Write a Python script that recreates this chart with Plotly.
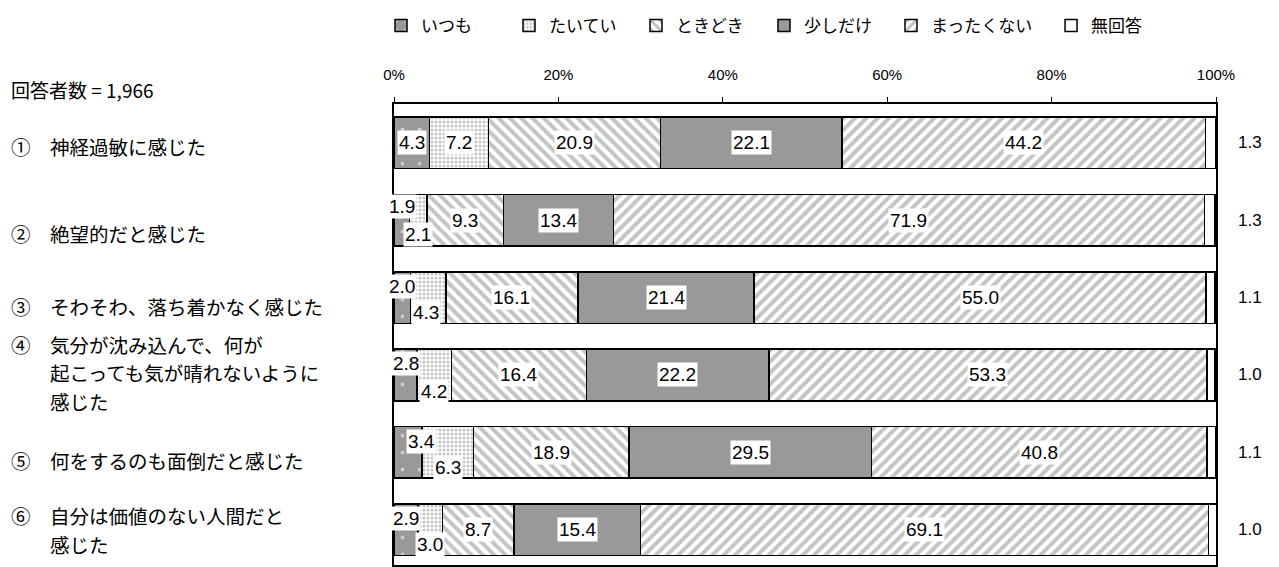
import plotly.graph_objects as go

# 設問（左側のラベル）
categories = [
    "①　神経過敏に感じた",
    "②　絶望的だと感じた",
    "③　そわそわ、落ち着かなく感じた",
    "④　気分が沈み込んで、何が<br>　　起こっても気が晴れないように<br>　　感じた",
    "⑤　何をするのも面倒だと感じた",
    "⑥　自分は価値のない人間だと<br>　　感じた",
]
series_names = ["いつも", "たいてい", "ときどき", "少しだけ", "まったくない", "無回答"]

itsumo = [4.3, 1.9, 2.0, 2.8, 3.4, 2.9]
taitei = [7.2, 2.1, 4.3, 4.2, 6.3, 3.0]
tokidoki = [20.9, 9.3, 16.1, 16.4, 18.9, 8.7]
sukoshi = [22.1, 13.4, 21.4, 22.2, 29.5, 15.4]
mattaku = [44.2, 71.9, 55.0, 53.3, 40.8, 69.1]
mukaitou = [1.3, 1.3, 1.1, 1.0, 1.1, 1.0]

n_label = "回答者数 = 1,966"
tick_vals = [0, 20, 40, 60, 80, 100]
tick_text = ["0%", "20%", "40%", "60%", "80%", "100%"]

values = [itsumo, taitei, tokidoki, sukoshi, mattaku, mukaitou]

JP = "Noto Sans CJK JP"
NUM = "Liberation Sans"
GRAY = "#999999"
STRIPE = "#8a8a8a"

patterns = [
    dict(shape=".", bgcolor=GRAY, fgcolor="white", size=17, solidity=0.04),
    dict(shape=".", bgcolor="white", fgcolor=STRIPE, size=4, solidity=0.45),
    dict(shape="\\", bgcolor="white", fgcolor=STRIPE, size=8, solidity=0.5),
    dict(shape="", bgcolor=GRAY, fgcolor=GRAY),
    dict(shape="/", bgcolor="white", fgcolor=STRIPE, size=8, solidity=0.5),
    dict(shape="", bgcolor="white", fgcolor="white"),
]
fills = [GRAY, "white", "white", GRAY, "white", "white"]

# 凡例ごとの位置（plot領域基準）
legend_x = [-0.0158, 0.1399, 0.2944, 0.4501, 0.6046, 0.7993]

fig = go.Figure()
for k, (name, vals, pat, col) in enumerate(zip(series_names, values, patterns, fills)):
    fig.add_trace(go.Bar(
        x=vals, y=categories, orientation="h", name=name,
        marker=dict(color=col, pattern=pat, line=dict(color="black", width=1.5)),
        hoverinfo="skip", showlegend=True,
        legend="legend" if k == 0 else f"legend{k + 1}",
    ))

# 小さい区間のラベルは上下にずらす (行, 系列) -> (xshift, yshift)
label_shift = {
    (1, 0): (0, 14), (1, 1): (0, -14),
    (2, 0): (0, 11), (2, 1): (-2, -15),
    (3, 0): (0, 11), (3, 1): (0, -17),
    (4, 0): (14, 11), (4, 1): (0, -15),
    (5, 0): (0, 11), (5, 1): (0, -15),
}

annotations = []
for i, cat in enumerate(categories):
    left = 0
    for j, vals in enumerate(values):
        v = vals[i]
        if j == len(values) - 1:
            annotations.append(dict(
                x=100, y=cat, xref="x", yref="y", text=f"{v:.1f}", showarrow=False,
                xshift=34, font=dict(family=NUM, size=17, color="black"),
            ))
        else:
            dx, dy = label_shift.get((i, j), (0, 0))
            annotations.append(dict(
                x=left + v / 2, y=cat, xref="x", yref="y", text=f"{v:.1f}", showarrow=False,
                xshift=dx, yshift=dy, bgcolor="white", borderpad=1,
                font=dict(family=NUM, size=19, color="black"),
            ))
        left += v

# 左側の設問ラベル（1行ずつ配置）
cat_shift = [-4, -13, -9, 2, -8, 0]
line_gap = 28.5
for cat, dy in zip(categories, cat_shift):
    lines = cat.split("<br>")
    n = len(lines)
    for k, line in enumerate(lines):
        annotations.append(dict(
            x=-0.468, y=cat, xref="paper", yref="y", text=line, showarrow=False,
            xanchor="left", align="left", yshift=dy - (k - (n - 1) / 2) * line_gap,
            font=dict(family=JP, size=19.5, color="black"),
        ))
annotations.append(dict(
    x=-0.468, y=1.031, xref="paper", yref="paper", text=n_label, showarrow=False,
    xanchor="left", yanchor="middle",
    font=dict(family=JP, size=19, color="black"),
))

legend_common = dict(
    orientation="h", xanchor="left", y=1.1695, yanchor="middle",
    font=dict(family=JP, size=17, color="black"), bgcolor="rgba(0,0,0,0)",
)
legends = {}
for k, lx in enumerate(legend_x):
    key = "legend" if k == 0 else f"legend{k + 1}"
    legends[key] = dict(legend_common, x=lx)

fig.update_layout(
    width=1271, height=559,
    margin=dict(l=386, r=63, t=93, b=0),
    barmode="stack", bargap=0.333, showlegend=True,
    plot_bgcolor="white", paper_bgcolor="white",
    annotations=annotations,
    xaxis=dict(
        side="top", range=[0, 100], tickvals=tick_vals, ticktext=tick_text,
        showgrid=False, zeroline=False, showline=True, linecolor="black", linewidth=1.5,
        mirror=True, ticks="outside", ticklen=5, tickcolor="black",
        ticklabelstandoff=11, tickfont=dict(family=NUM, size=15, color="black"),
    ),
    yaxis=dict(
        categoryorder="array", categoryarray=categories, range=[5.454, -0.5],
        showticklabels=False, showgrid=False, zeroline=False,
        showline=True, linecolor="black", linewidth=1.5, mirror=True, ticks="",
    ),
    **legends,
)

fig.write_html("out.html")
